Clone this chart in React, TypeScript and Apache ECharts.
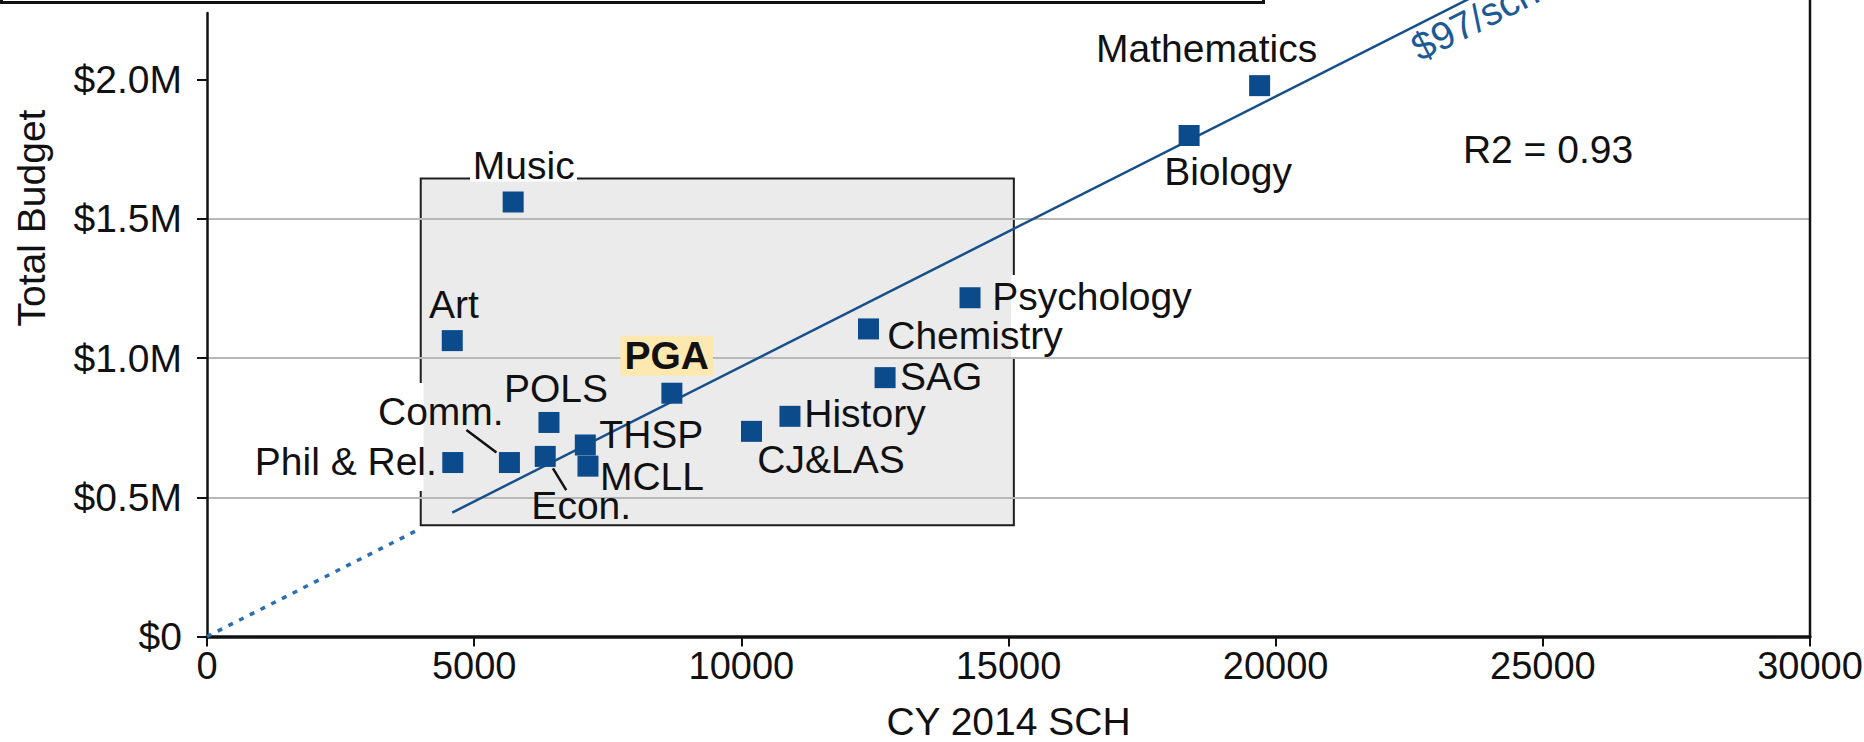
import React, { useEffect, useRef } from "react";
import * as echarts from "echarts";

// ---- data ----
const departments = [
  "Mathematics", "Biology", "Music", "Art", "Psychology", "Chemistry", "SAG", "PGA",
  "History", "CJ&LAS", "POLS", "THSP", "MCLL", "Econ.", "Comm.", "Phil & Rel.",
];
const sch = [19700, 18380, 5730, 4590, 14280, 12380, 12690, 8700, 10910, 10190, 6400, 7080, 7130, 6330, 5660, 4600];
const budget = [1979000, 1800000, 1561000, 1063000, 1217000, 1105000, 930000, 874000, 791000, 737000, 769000, 688000, 612000, 647000, 625000, 625000];

const xTicks = [0, 5000, 10000, 15000, 20000, 25000, 30000];
const yTicks = [0, 500000, 1000000, 1500000, 2000000];
const costPerSch = 97; // $97 per SCH fit through origin
const r2Text = "R2 = 0.93";
const fitLabel = "$97/sch";
const highlightBox = [4000, 400000, 15100, 1645000]; // x0, y0, x1, y1
const dottedFitX = [0, 4000];
const solidFitEndX = 24000;

// ---- layout / style tables ----
const FONT = "'Liberation Sans', Arial, Helvetica, sans-serif";
const labelOffsets: Record<string, [number, number]> = {
  Mathematics: [-53, -37.5],
  Biology: [39, 36],
  Music: [10.6, -36.5],
  Art: [1.6, -36.5],
  Psychology: [122, -1.3],
  Chemistry: [106.5, 6.7],
  SAG: [56, -0.7],
  PGA: [-5.2, -37.5],
  History: [75, -3.3],
  "CJ&LAS": [79.5, 27.7],
  POLS: [7, -34.3],
  THSP: [66, -10],
  MCLL: [64, 10.5],
  "Econ.": [36, 49.5],
  "Comm.": [-68.6, -51],
  "Phil & Rel.": [-107, -1],
};
const leaders = [
  { name: "Comm.", from: [-43, -32.5], to: [-13, -10] },
  { name: "Econ.", from: [7.7, 12], to: [21, 33.7] },
];

const SYMBOL = 21;

export default function App() {
  const ref = useRef<HTMLDivElement>(null);

  useEffect(() => {
    const chart = echarts.init(ref.current!, null, { renderer: "svg" });

    const points = departments.map((name, i) => {
      const off = labelOffsets[name] || [0, -36];
      const label: any = {
        show: true,
        formatter: name,
        position: [SYMBOL / 2 + off[0], SYMBOL / 2 + off[1]],
        align: "center",
        verticalAlign: "middle",
        fontSize: 39,
        fontFamily: FONT,
        color: "#111",
        opacity: 1,
      };
      if (name === "PGA") {
        label.fontWeight = "bold";
        label.backgroundColor = "#fde8b0";
        label.padding = [1, 4, 0, 4];
      }
      return { name, value: [sch[i], budget[i]], label };
    });

    const minX = Math.min(...sch);

    const option: any = {
      animation: false,
      backgroundColor: "#fff",
      grid: { left: 207, right: 54, top: 13, bottom: 105.5, containLabel: false, outerBoundsMode: "none" },
      xAxis: {
        type: "value",
        min: 0,
        max: 30000,
        interval: 5000,
        z: 2,
        name: "CY 2014 SCH",
        nameLocation: "middle",
        nameGap: 65,
        nameTextStyle: { fontSize: 39, color: "#111", fontFamily: FONT },
        axisLine: { show: true, lineStyle: { color: "#111", width: 3.5 } },
        axisTick: { show: true, length: 10, lineStyle: { color: "#111", width: 2 } },
        axisLabel: {
          margin: 10,
          fontSize: 38,
          color: "#111",
          fontFamily: FONT,
          formatter: (v: number) => (xTicks.includes(v) ? String(v) : ""),
        },
        splitLine: { show: false },
      },
      yAxis: {
        type: "value",
        min: 0,
        max: 2240000,
        interval: 500000,
        z: 2,
        axisLine: { show: true, onZero: false, lineStyle: { color: "#111", width: 2.5 } },
        axisTick: { show: true, length: 10, lineStyle: { color: "#111", width: 2 }, customValues: yTicks },
        axisLabel: {
          margin: 25,
          fontSize: 39,
          color: "#111",
          fontFamily: FONT,
          customValues: yTicks,
          formatter: (v: number) =>
            yTicks.includes(v) ? (v === 0 ? "$0" : "$" + (v / 1e6).toFixed(1) + "M") : "",
        },
        splitLine: {
          show: true,
          showMinLine: false,
          showMaxLine: false,
          lineStyle: { color: "#b8b8b8", width: 2 },
        },
      },
      series: [
        {
          type: "custom",
          z: 0,
          silent: true,
          clip: false,
          data: [highlightBox],
          encode: { x: [0, 2], y: [1, 3] },
          renderItem: (_params: any, api: any) => {
            const a = api.coord([api.value(0), api.value(3)]);
            const b = api.coord([api.value(2), api.value(1)]);
            return {
              type: "rect",
              shape: { x: a[0], y: a[1], width: b[0] - a[0], height: b[1] - a[1] },
              style: { fill: "#ebebeb", stroke: "#1e1e1e", lineWidth: 2 },
            };
          },
        },
        {
          type: "line",
          z: 3,
          silent: true,
          symbol: "none",
          clip: false,
          data: dottedFitX.map((x) => [x, costPerSch * x]),
          lineStyle: { color: "#2a6fb6", width: 3.5, type: [5, 7], opacity: 1 },
        },
        {
          type: "line",
          z: 3,
          silent: true,
          symbol: "none",
          clip: false,
          data: [minX, solidFitEndX].map((x) => [x, costPerSch * x]),
          lineStyle: { color: "#174f8a", width: 2.5, opacity: 1 },
        },
        {
          type: "scatter",
          z: 4,
          symbol: "rect",
          symbolSize: SYMBOL,
          itemStyle: { color: "#0b4a8b", opacity: 1 },
          emphasis: { disabled: true },
          data: points,
        },
      ],
    };

    chart.setOption(option);

    const leaderEls = leaders.map((l) => {
      const i = departments.indexOf(l.name);
      const p = chart.convertToPixel({ gridIndex: 0 }, [sch[i], budget[i]]) as number[];
      return {
        type: "line",
        z: 5,
        silent: true,
        shape: { x1: p[0] + l.from[0], y1: p[1] + l.from[1], x2: p[0] + l.to[0], y2: p[1] + l.to[1] },
        style: { stroke: "#111", lineWidth: 2.5 },
      };
    });

    chart.setOption({
      graphic: {
        elements: [
          // white patches interrupting the box border behind labels
          { type: "rect", z: 1, silent: true, shape: { x: 470, y: 175.5, width: 107, height: 6 }, style: { fill: "#fff" } },
          { type: "rect", z: 1, silent: true, shape: { x: 417.5, y: 383, width: 6, height: 108 }, style: { fill: "#fff" } },
          { type: "rect", z: 1, silent: true, shape: { x: 1011, y: 275, width: 6, height: 82 }, style: { fill: "#fff" } },
          // top frame (cut off)
          {
            type: "rect",
            z: 10,
            silent: true,
            shape: { x: 1.5, y: -30, width: 1262, height: 32.5 },
            style: { fill: "#fff", stroke: "#111", lineWidth: 3 },
          },
          // right frame line
          {
            type: "line",
            z: 2,
            silent: true,
            shape: { x1: 1810, y1: 0, x2: 1810, y2: 637 },
            style: { stroke: "#111", lineWidth: 2.5 },
          },
          {
            type: "text",
            z: 5,
            x: 31,
            y: 218,
            rotation: Math.PI / 2,
            style: { text: "Total Budget", align: "center", verticalAlign: "middle", fontSize: 39, fontFamily: FONT, fill: "#111" },
          },
          {
            type: "text",
            z: 5,
            x: 1548,
            y: 149,
            style: { text: r2Text, align: "center", verticalAlign: "middle", fontSize: 39, fontFamily: FONT, fill: "#111" },
          },
          {
            type: "text",
            z: 5,
            x: 1414,
            y: 50,
            rotation: 0.468,
            style: { text: fitLabel, align: "left", verticalAlign: "middle", fontSize: 39, fontFamily: FONT, fill: "#1a5a96" },
          },
          ...leaderEls,
        ],
      },
    });

    return () => chart.dispose();
  }, []);

  return (
    <div
      ref={ref}
      style={{ position: "absolute", left: 0, top: 0, width: 1864, height: 742, background: "#fff" }}
    />
  );
}
